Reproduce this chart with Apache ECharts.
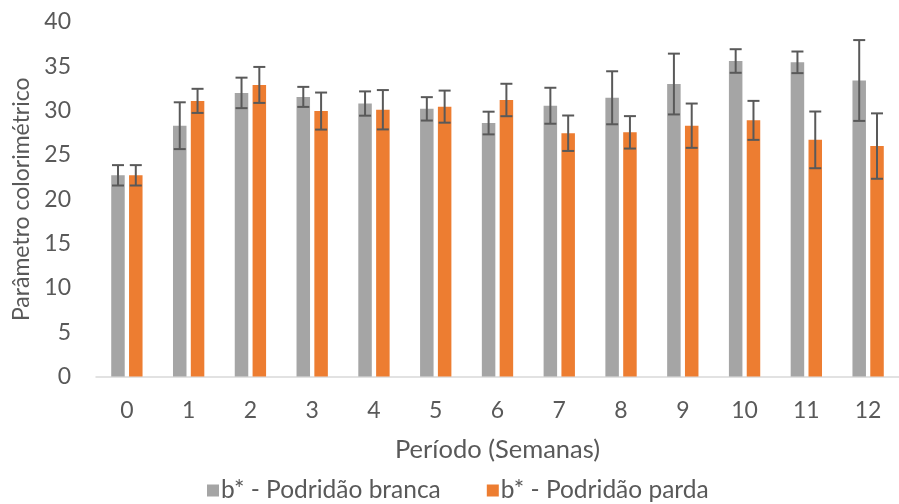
<!DOCTYPE html>
<html>
<head>
<meta charset="utf-8">
<script src="https://cdn.jsdelivr.net/npm/echarts@6/dist/echarts.min.js"></script>
<style>
  html, body { margin: 0; padding: 0; background: #fff; }
  #chart { width: 899px; height: 504px; }
</style>
</head>
<body>
<div id="chart"></div>
<script>
// Weeks of storage
const weeks = ['0', '1', '2', '3', '4', '5', '6', '7', '8', '9', '10', '11', '12'];

// b* means and standard deviations for each rot type
const brancaMean = [22.7, 28.3, 32.0, 31.55, 30.8, 30.2, 28.6, 30.55, 31.45, 33.0, 35.6, 35.45, 33.4];
const brancaSd   = [1.15, 2.64, 1.72, 1.13, 1.37, 1.32, 1.28, 2.03, 2.99, 3.43, 1.33, 1.22, 4.56];
const pardaMean  = [22.7, 31.1, 32.9, 29.95, 30.1, 30.45, 31.2, 27.45, 27.55, 28.3, 28.9, 26.7, 26.0];
const pardaSd    = [1.15, 1.36, 2.03, 2.09, 2.22, 1.81, 1.83, 2.0, 1.83, 2.5, 2.2, 3.2, 3.69];

const yTicks = { min: 0, max: 40, step: 5 };

const seriesNames = ['b* - Podridão branca', 'b* - Podridão parda'];
const colors = ['#A5A5A5', '#ED7D31'];

const FONT = 'Lato, "Open Sans", sans-serif';
const FS = 23;
const TEXT = '#595959';
const BAR_W = 13.5;
const GAP_PX = 4.3;

// Error bar drawn through the category scale, shifted to sit on its bar
function errorSeries(name, mean, sd, side) {
  const data = mean.map((m, i) => [i, m - sd[i], m + sd[i]]);
  return {
    type: 'custom',
    name: name + ' (DP)',
    silent: true,
    z: 10,
    data: data,
    encode: { x: 0, y: [1, 2] },
    renderItem: function (params, api) {
      const shift = side * (BAR_W + GAP_PX) / 2;
      const lo = api.coord([api.value(0), api.value(1)]);
      const hi = api.coord([api.value(0), api.value(2)]);
      const x = lo[0] + shift;
      const cap = 6;
      const style = { stroke: '#595959', lineWidth: 2, fill: null };
      return {
        type: 'group',
        children: [
          { type: 'line', shape: { x1: x, y1: lo[1], x2: x, y2: hi[1] }, style: style },
          { type: 'line', shape: { x1: x - cap, y1: lo[1], x2: x + cap, y2: lo[1] }, style: style },
          { type: 'line', shape: { x1: x - cap, y1: hi[1], x2: x + cap, y2: hi[1] }, style: style }
        ]
      };
    }
  };
}

const chart = echarts.init(document.getElementById('chart'), null, { renderer: 'canvas' });

chart.setOption({
  animation: false,
  textStyle: { fontFamily: FONT },
  color: colors,
  grid: { left: 96, top: 22, width: 812.5, height: 354.5, containLabel: false },
  legend: {
    data: seriesNames,
    left: 202,
    top: 473,
    itemWidth: 12,
    itemHeight: 12,
    itemGap: 46,
    icon: 'rect',
    textStyle: { fontFamily: FONT, fontSize: 24.5, color: TEXT, padding: [0, 0, 0, -3] }
  },
  xAxis: {
    type: 'category',
    data: weeks,
    name: 'Período (Semanas)',
    nameLocation: 'middle',
    nameGap: 60,
    nameTextStyle: { fontFamily: FONT, fontSize: 25.5, color: TEXT },
    axisLine: { lineStyle: { color: '#D9D9D9', width: 1.5 } },
    axisTick: { show: false },
    axisLabel: { fontFamily: FONT, fontSize: FS, color: TEXT, margin: 23 },
    splitLine: { show: false }
  },
  yAxis: {
    type: 'value',
    min: yTicks.min,
    max: yTicks.max,
    interval: yTicks.step,
    name: 'Parâmetro colorimétrico',
    nameLocation: 'middle',
    nameGap: 63,
    nameTextStyle: { fontFamily: FONT, fontSize: FS, color: TEXT },
    axisLine: { show: false },
    axisTick: { show: false },
    axisLabel: { fontFamily: FONT, fontSize: FS, color: TEXT, margin: 25 },
    splitLine: { show: false }
  },
  series: [
    {
      type: 'bar',
      name: seriesNames[0],
      data: brancaMean,
      barWidth: BAR_W,
      barGap: (GAP_PX / BAR_W * 100).toFixed(0) + '%',
      itemStyle: { color: colors[0] }
    },
    {
      type: 'bar',
      name: seriesNames[1],
      data: pardaMean,
      barWidth: BAR_W,
      itemStyle: { color: colors[1] }
    },
    errorSeries(seriesNames[0], brancaMean, brancaSd, -1),
    errorSeries(seriesNames[1], pardaMean, pardaSd, 1)
  ]
});
</script>
</body>
</html>
